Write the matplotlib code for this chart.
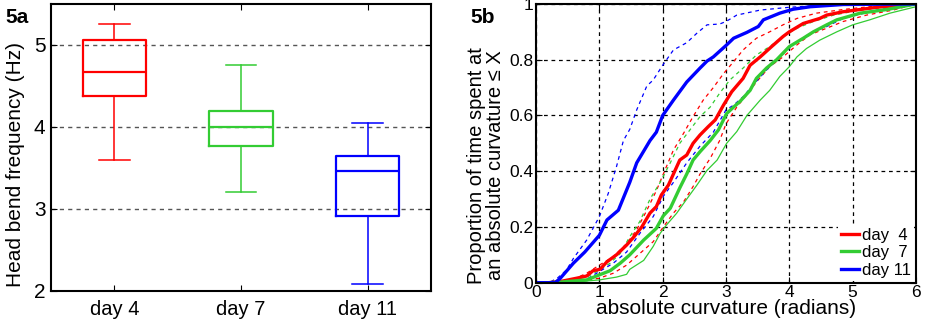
import matplotlib
matplotlib.use('Agg')
import matplotlib.pyplot as plt
import numpy as np

plt.rcParams['font.family'] = ['Liberation Sans', 'DejaVu Sans']

# --- 5a: head bend frequency box plots
days = ['day 4', 'day 7', 'day 11']
box_colors = ['#ff0000', '#33cc33', '#0000ff']
whislo = [3.60, 3.20, 2.085]
q1 = [4.38, 3.77, 2.91]
med = [4.665, 4.00, 3.46]
q3 = [5.055, 4.19, 3.65]
whishi = [5.25, 4.76, 4.05]

# --- 5b: cumulative curvature distributions
d11_x = [0, 0.3, 0.38, 0.59, 0.77, 1.0, 1.12, 1.3, 1.48, 1.59, 1.8, 1.9, 2.0, 2.17, 2.38, 2.59,
         2.7, 2.8, 3.01, 3.12, 3.33, 3.51, 3.59, 3.85, 4.06, 4.33, 4.85, 6.0]
d11_y = [0, 0, 0.015, 0.07, 0.11, 0.17, 0.225, 0.26, 0.36, 0.43, 0.51, 0.54, 0.60, 0.655, 0.72, 0.77,
         0.795, 0.81, 0.853, 0.877, 0.898, 0.919, 0.943, 0.967, 0.981, 0.99, 0.998, 1.0]
d11_hi_x = [0, 0.2, 0.33, 0.48, 0.59, 0.8, 1.0, 1.14, 1.27, 1.38, 1.48, 1.59, 1.75, 1.85, 2.0, 2.17,
            2.38, 2.54, 2.7, 2.9, 3.0, 3.17, 3.54, 4.0, 4.6, 6.0]
d11_hi_y = [0, 0, 0.015, 0.045, 0.087, 0.153, 0.237, 0.32, 0.416, 0.51, 0.55, 0.62, 0.706, 0.727,
            0.78, 0.835, 0.861, 0.895, 0.925, 0.928, 0.937, 0.96, 0.978, 0.988, 0.996, 1.0]
d11_lo_x = [0, 0.4, 0.8, 1.0, 1.22, 1.43, 1.64, 1.85, 2.01, 2.17, 2.38, 2.59, 2.8, 3.0, 3.12, 3.27,
            3.43, 3.64, 3.85, 4.06, 4.33, 4.59, 4.85, 5.38, 6.0]
d11_lo_y = [0, 0, 0.012, 0.04, 0.07, 0.11, 0.177, 0.237, 0.31, 0.36, 0.43, 0.49, 0.54, 0.62, 0.637,
            0.667, 0.71, 0.763, 0.81, 0.853, 0.895, 0.919, 0.948, 0.978, 1.0]

d4_x = [0, 0.2, 0.38, 0.64, 0.8, 0.9, 1.01, 1.12, 1.27, 1.43, 1.54, 1.67, 1.8, 1.9, 1.98, 2.09, 2.17,
        2.27, 2.38, 2.48, 2.59, 2.72, 2.83, 2.96, 3.09, 3.27, 3.38, 3.54, 3.72, 3.9, 4.0, 4.22, 4.48,
        4.59, 4.85, 5.38, 6.0]
d4_y = [0, 0, 0.004, 0.016, 0.024, 0.043, 0.048, 0.075, 0.10, 0.135, 0.163, 0.20, 0.25, 0.273, 0.315,
        0.35, 0.39, 0.44, 0.458, 0.50, 0.53, 0.56, 0.584, 0.637, 0.685, 0.733, 0.78, 0.81, 0.847, 0.883,
        0.90, 0.93, 0.948, 0.96, 0.972, 0.988, 1.0]
d4_hi_x = [0, 0.3, 0.59, 0.8, 1.0, 1.22, 1.43, 1.59, 1.75, 1.9, 2.01, 2.17, 2.33, 2.48, 2.64, 2.8, 2.96,
           3.12, 3.27, 3.48, 3.69, 3.9, 4.12, 4.43, 4.85, 5.38, 6.0]
d4_hi_y = [0, 0, 0.012, 0.034, 0.063, 0.093, 0.14, 0.19, 0.26, 0.33, 0.39, 0.476, 0.536, 0.596, 0.655,
           0.70, 0.75, 0.793, 0.835, 0.877, 0.90, 0.925, 0.948, 0.967, 0.98, 0.993, 1.0]
d4_lo_x = [0, 0.5, 1.0, 1.22, 1.43, 1.64, 1.85, 2.01, 2.17, 2.33, 2.48, 2.59, 2.75, 2.9, 3.0, 3.17, 3.33,
           3.48, 3.69, 3.9, 4.12, 4.33, 4.59, 4.85, 5.22, 5.64, 6.0]
d4_lo_y = [0, 0, 0.016, 0.034, 0.063, 0.105, 0.147, 0.20, 0.25, 0.29, 0.345, 0.39, 0.446, 0.51, 0.57,
           0.63, 0.675, 0.72, 0.775, 0.81, 0.853, 0.89, 0.913, 0.937, 0.96, 0.978, 1.0]

d7_x = [0, 0.2, 0.38, 0.8, 1.0, 1.17, 1.33, 1.48, 1.7, 1.9, 2.01, 2.12, 2.27, 2.38, 2.48, 2.59, 2.75,
        2.88, 3.01, 3.12, 3.22, 3.38, 3.48, 3.64, 3.8, 4.0, 4.22, 4.38, 4.59, 4.75, 5.12, 5.54, 6.0]
d7_y = [0, 0, 0.002, 0.01, 0.028, 0.043, 0.07, 0.10, 0.153, 0.195, 0.24, 0.267, 0.34, 0.39, 0.44, 0.47,
        0.51, 0.548, 0.607, 0.63, 0.65, 0.69, 0.733, 0.77, 0.80, 0.847, 0.877, 0.90, 0.925, 0.943, 0.967,
        0.98, 1.0]
d7_hi_x = [0, 0.3, 0.8, 1.0, 1.17, 1.33, 1.48, 1.64, 1.8, 1.96, 2.12, 2.27, 2.43, 2.59, 2.75, 2.9, 3.06,
           3.27, 3.48, 3.69, 3.9, 4.12, 4.38, 4.7, 5.12, 6.0]
d7_hi_y = [0, 0, 0.02, 0.045, 0.07, 0.105, 0.165, 0.22, 0.30, 0.36, 0.43, 0.50, 0.548, 0.596, 0.63, 0.68,
           0.727, 0.77, 0.817, 0.847, 0.883, 0.913, 0.937, 0.96, 0.978, 1.0]
d7_lo_x = [0, 0.5, 1.0, 1.27, 1.43, 1.48, 1.7, 1.85, 1.96, 2.06, 2.22, 2.38, 2.54, 2.7, 2.86, 3.01, 3.17,
           3.33, 3.54, 3.69, 3.85, 4.0, 4.12, 4.27, 4.48, 4.75, 5.0, 5.27, 5.59, 6.0]
d7_lo_y = [0, 0, 0.01, 0.02, 0.03, 0.048, 0.08, 0.13, 0.177, 0.207, 0.249, 0.30, 0.35, 0.403, 0.44, 0.50,
           0.542, 0.60, 0.655, 0.69, 0.74, 0.775, 0.81, 0.84, 0.87, 0.90, 0.925, 0.943, 0.967, 0.99]

fig = plt.figure(figsize=(9.29, 3.23), dpi=100)
ax1 = fig.add_axes([0.0549, 0.10, 0.409, 0.8876])
ax2 = fig.add_axes([0.577, 0.1248, 0.409, 0.863])

# ---- panel a
stats = [dict(label=d, whislo=lo, q1=a, med=m, q3=b, whishi=hi, fliers=[])
         for d, lo, a, m, b, hi in zip(days, whislo, q1, med, q3, whishi)]
bp = ax1.bxp(stats, positions=[1, 2, 3], widths=0.5, capwidths=0.24, showfliers=False)
for i, c in enumerate(box_colors):
    bp['boxes'][i].set(color=c, linewidth=1.6)
    bp['medians'][i].set(color=c, linewidth=1.6)
    for k in (2 * i, 2 * i + 1):
        bp['whiskers'][k].set(color=c, linewidth=1.1, linestyle='-')
        bp['caps'][k].set(color=c, linewidth=1.1)
ax1.set_xlim(0.5, 3.5)
ax1.set_ylim(2, 5.5)
ax1.set_yticks([2, 3, 4, 5])
ax1.set_xticks([1, 2, 3])
ax1.set_xticklabels(days, fontsize=14.5)
ax1.yaxis.grid(True, linestyle=(0, (3, 3)), color='#555555', linewidth=1)
ax1.set_axisbelow(True)
ax1.tick_params(direction='in', top=True, right=True, length=4)
ax1.tick_params(axis='x', pad=7)
ax1.tick_params(axis='y', labelsize=15, pad=4)
ax1.set_ylabel('Head bend frequency (Hz)', fontsize=15)
ax1.yaxis.set_label_coords(-0.068, 0.44)
for s in ax1.spines.values():
    s.set_linewidth(1.5)
fig.text(0.006, 0.93, '5a', fontsize=15, fontweight='bold')

# ---- panel b
ax2.plot(d4_hi_x, d4_hi_y, color='#ff0000', linestyle=(0, (3, 3)), linewidth=0.9)
ax2.plot(d4_lo_x, d4_lo_y, color='#ff0000', linestyle=(0, (3, 3)), linewidth=0.9)
ax2.plot(d7_hi_x, d7_hi_y, color='#33cc33', linestyle=(0, (3, 3)), linewidth=0.9)
ax2.plot(d7_lo_x, d7_lo_y, color='#33cc33', linestyle='-', linewidth=0.9)
ax2.plot(d11_hi_x, d11_hi_y, color='#0000ff', linestyle=(0, (3, 3)), linewidth=0.9)
ax2.plot(d11_lo_x, d11_lo_y, color='#0000ff', linestyle=(0, (3, 3)), linewidth=0.9)
l4, = ax2.plot(d4_x, d4_y, color='#ff0000', linewidth=2.4)
l7, = ax2.plot(d7_x, d7_y, color='#33cc33', linewidth=2.4)
l11, = ax2.plot(d11_x, d11_y, color='#0000ff', linewidth=2.4)
ax2.set_xlim(0, 6)
ax2.set_ylim(0, 1)
ax2.set_xticks([0, 1, 2, 3, 4, 5, 6])
ax2.set_yticks([0, 0.2, 0.4, 0.6, 0.8, 1])
ax2.set_yticklabels(['0', '0.2', '0.4', '0.6', '0.8', '1'])
ax2.grid(True, linestyle=(0, (3, 3)), color='black', linewidth=0.9)
ax2.set_axisbelow(True)
ax2.tick_params(direction='in', top=True, right=True, length=4, labelsize=12.5, pad=2)
for s in ax2.spines.values():
    s.set_linewidth(1.5)
ax2.set_xlabel('absolute curvature (radians)', fontsize=15, labelpad=-1)
ax2.set_ylabel('Proportion of time spent at\nan absolute curvature \u2264 X', fontsize=14.5,
               linespacing=1.0)
ax2.yaxis.set_label_coords(-0.082, 0.42)
leg = ax2.legend([l4, l7, l11], ['day  4', 'day  7', 'day 11'], loc='lower right', fontsize=12,
                 handlelength=1.1, handletextpad=0.15, borderaxespad=0.1, borderpad=0.2,
                 labelspacing=0.15, fancybox=False, framealpha=1, edgecolor='none')
fig.text(0.506, 0.93, '5b', fontsize=15, fontweight='bold')

fig.savefig('out.png', dpi=100)
